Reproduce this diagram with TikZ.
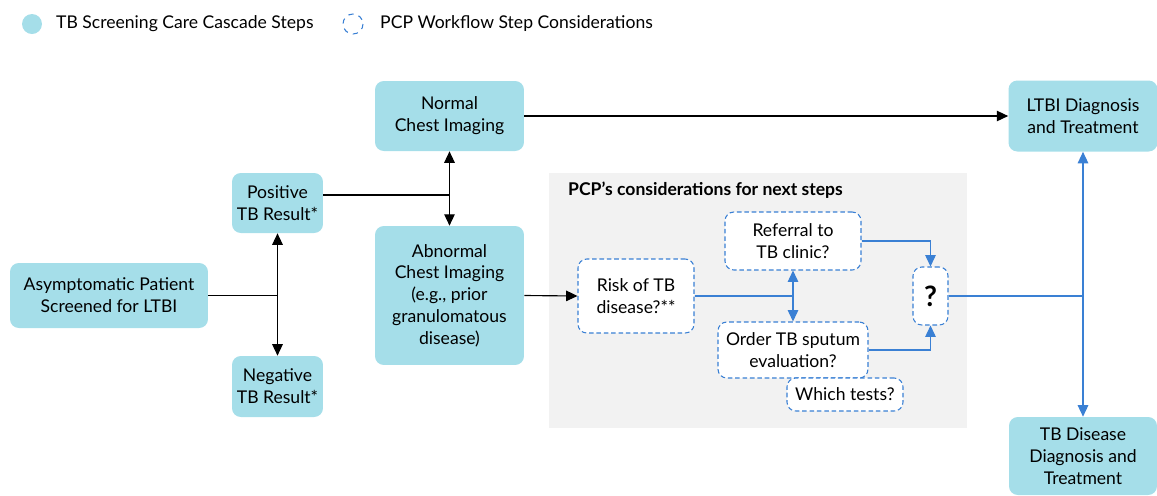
\documentclass[tikz,border=0pt]{standalone}
\usepackage{fontspec}
\setmainfont{Lato}
\usetikzlibrary{arrows.meta,calc}
\definecolor{cascade}{RGB}{165,222,233}
\definecolor{pcpblue}{RGB}{58,128,212}
\definecolor{panel}{RGB}{242,242,242}
\tikzset{
  stepbox/.style={fill=cascade,rounded corners=5pt,align=center,inner sep=1pt},
  pcpbox/.style={draw=pcpblue,fill=white,line width=0.6pt,dash pattern=on 2.6pt off 1.6pt,rounded corners=5pt,align=center,inner sep=1pt},
  tip/.style={-{Triangle[length=6.5pt,width=6pt]}},
  both/.style={{Triangle[length=6.5pt,width=6pt]}-{Triangle[length=6.5pt,width=6pt]}},
  link/.style={line width=0.65pt},
  bluelink/.style={line width=0.65pt,pcpblue}
}
\begin{document}
\begin{tikzpicture}[x=0.02cm,y=-0.02cm,every node/.style={font=\fontsize{10}{12.4}\selectfont}]
\useasboundingbox (0,0) rectangle (1157,495);
% legend
\fill[cascade] (32,24) circle (10);
\node[anchor=west] (legA) at (50,24) {TB Screening Care Cascade Steps};
\draw[pcpblue,line width=0.6pt,dash pattern=on 3pt off 3pt] (353,24) circle (10);
\node[anchor=west] (legB) at (374,24) {PCP Workflow Step Considerations};
% panel
\fill[panel] (549,173) rectangle (967,428);
\node[anchor=west,font=\fontsize{10}{12.4}\selectfont\bfseries] (title) at (562,190) {PCP’s considerations for next steps};
% cascade steps
\node[stepbox,minimum width=3.96cm,minimum height=1.30cm] (asym) at (109,295.5) {Asymptomatic Patient\\Screened for LTBI};
\node[stepbox,minimum width=1.82cm,minimum height=1.20cm] (pos) at (277.5,203) {Positive\\TB Result*};
\node[stepbox,minimum width=1.82cm,minimum height=1.22cm] (neg) at (277.5,386.5) {Negative\\TB Result*};
\node[stepbox,minimum width=2.98cm,minimum height=1.40cm] (normal) at (449.5,116) {Normal\\Chest Imaging};
\node[stepbox,minimum width=2.98cm,minimum height=2.78cm] (abn) at (449.5,295.5) {Abnormal\\Chest Imaging\\(e.g., prior\\granulomatous\\disease)};
\node[stepbox,minimum width=2.98cm,minimum height=1.42cm] (ltbi) at (1083,116) {LTBI Diagnosis\\and Treatment};
\node[stepbox,minimum width=2.96cm,minimum height=1.56cm] (tbd) at (1083,456) {TB Disease\\Diagnosis and\\Treatment};
% workflow considerations
\node[pcpbox,minimum width=2.32cm,minimum height=1.48cm] (risk) at (636,296) {Risk of TB\\disease?**};
\node[pcpbox,minimum width=2.72cm,minimum height=1.16cm] (ref) at (793,241) {Referral to\\TB clinic?};
\node[pcpbox,minimum width=3.00cm,minimum height=1.12cm] (order) at (793,350) {Order TB sputum\\evaluation?};
\node[pcpbox,minimum width=2.32cm,minimum height=0.66cm] (which) at (845,394.5) {Which tests?};
\node[pcpbox,minimum width=0.70cm,minimum height=1.16cm,font=\fontsize{16}{18}\selectfont\bfseries] (q) at (930.5,296) {?};
% connectors
\coordinate (posout) at ($(pos.east)+(0,-8)$);
\draw[link] (asym.east) -- (asym.east -| pos.south);
\draw[link,both] (pos.south) -- (neg.north);
\draw[link] (posout) -- (posout -| normal.south);
\draw[link,both] (normal.south) -- (abn.north);
\draw[link,tip] (normal.east) -- (ltbi.west);
\draw[link,tip] (abn.east) -- (risk.west);
\draw[bluelink] (risk.east) -- (risk.east -| ref.south);
\draw[bluelink,both] (ref.south) -- (order.north);
\draw[bluelink,tip] (ref.east) -| (q.north);
\draw[bluelink,tip] (order.east) -| (q.south);
\draw[bluelink] (q.east) -- (q.east -| ltbi.south);
\draw[bluelink,both] (ltbi.south) -- (tbd.north);
\end{tikzpicture}
\end{document}
